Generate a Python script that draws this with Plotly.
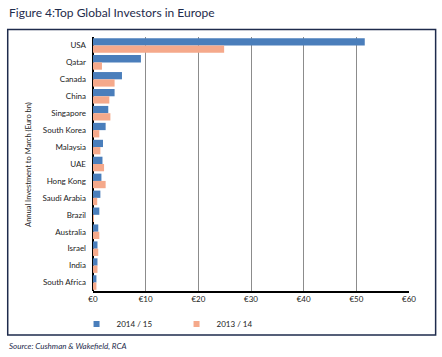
import plotly.graph_objects as go

countries = ["USA", "Qatar", "Canada", "China", "Singapore", "South Korea", "Malaysia",
             "UAE", "Hong Kong", "Saudi Arabia", "Brazil", "Australia", "Israel",
             "India", "South Africa"]
values_2014_15 = [51.6, 9.1, 5.5, 4.1, 2.9, 2.4, 1.9, 1.8, 1.6, 1.4, 1.2, 1.0, 0.85, 0.85, 0.65]
values_2013_14 = [24.9, 1.7, 4.1, 3.1, 3.3, 1.2, 1.4, 2.1, 2.4, 0.8, 0.15, 1.2, 1.0, 0.85, 0.65]
x_ticks = [0, 10, 20, 30, 40, 50, 60]
x_tick_labels = ["€0", "€10", "€20", "€30", "€40", "€50", "€60"]
series_names = ["2014 / 15", "2013 / 14"]

BLUE = "#4A7EBB"
SALMON = "#F5A98B"
NAVY = "#1E2B4C"
FONT = "Lato, 'DejaVu Sans', sans-serif"

W, H = 442, 357
ML, MR, MT, MB = 92.5, 32.7, 36.5, 66
PW, PH = W - ML - MR, H - MT - MB

def px_x(px):
    return (px - ML) / PW

def px_y(py):
    return (H - MB - py) / PH

fig = go.Figure()
for name, vals, col in [(series_names[0], values_2014_15, BLUE),
                        (series_names[1], values_2013_14, SALMON)]:
    fig.add_trace(go.Bar(y=countries, x=vals, orientation="h", name=name,
                         marker=dict(color=col, line=dict(width=0)),
                         showlegend=False))
for name, col in [(series_names[0], BLUE), (series_names[1], SALMON)]:
    fig.add_trace(go.Scatter(x=[None], y=[None], mode="markers", name=name,
                             marker=dict(symbol="square", size=6, color=col)))

fig.update_layout(
    width=W, height=H,
    margin=dict(l=ML, r=MR, t=MT, b=MB),
    paper_bgcolor="white", plot_bgcolor="white",
    barmode="group", bargap=0.14, bargroupgap=0,
    font=dict(family=FONT, size=8, color="#222222"),
    legend=dict(orientation="h", x=px_x(76), xanchor="left", y=px_y(324), yanchor="middle",
                entrywidth=55, entrywidthmode="pixels", itemwidth=30,
                font=dict(size=8, color="#222222"), bgcolor="rgba(0,0,0,0)"),
    xaxis=dict(range=[0, 60], tickvals=x_ticks, ticktext=x_tick_labels,
               showgrid=True, gridcolor="#8C8C8C", gridwidth=1,
               showline=True, linecolor="black", linewidth=1.5,
               zeroline=True, zerolinecolor="black", zerolinewidth=1.5,
               ticks="", tickfont=dict(size=8), fixedrange=True),
    yaxis=dict(categoryorder="array", categoryarray=countries, autorange="reversed",
               showgrid=False, showline=False, ticks="", ticklabelstandoff=6,
               tickfont=dict(size=8), fixedrange=True),
)

fig.add_shape(type="rect", xref="paper", yref="paper",
              x0=px_x(7), x1=px_x(436), y0=px_y(335), y1=px_y(29),
              line=dict(color=NAVY, width=1.5), layer="below")

fig.add_annotation(text="Figure 4:Top Global Investors in Europe", xref="paper", yref="paper",
                   x=px_x(6), y=px_y(12), xanchor="left", yanchor="middle", showarrow=False,
                   font=dict(family=FONT, size=12, color=NAVY))
fig.add_annotation(text="<i>Source: Cushman &amp; Wakefield, RCA</i>", xref="paper", yref="paper",
                   x=px_x(6), y=px_y(346), xanchor="left", yanchor="middle", showarrow=False,
                   font=dict(family=FONT, size=8, color=NAVY))
fig.add_annotation(text="Annual Investment to March (Euro bn)", xref="paper", yref="paper",
                   x=px_x(28), y=px_y(164), xanchor="center", yanchor="middle", showarrow=False,
                   textangle=-90, font=dict(family=FONT, size=7.5, color="#222222"))

fig.write_html("out.html", config={"displayModeBar": False},
               post_script="document.body.style.margin='0';document.body.style.overflow='hidden';")
